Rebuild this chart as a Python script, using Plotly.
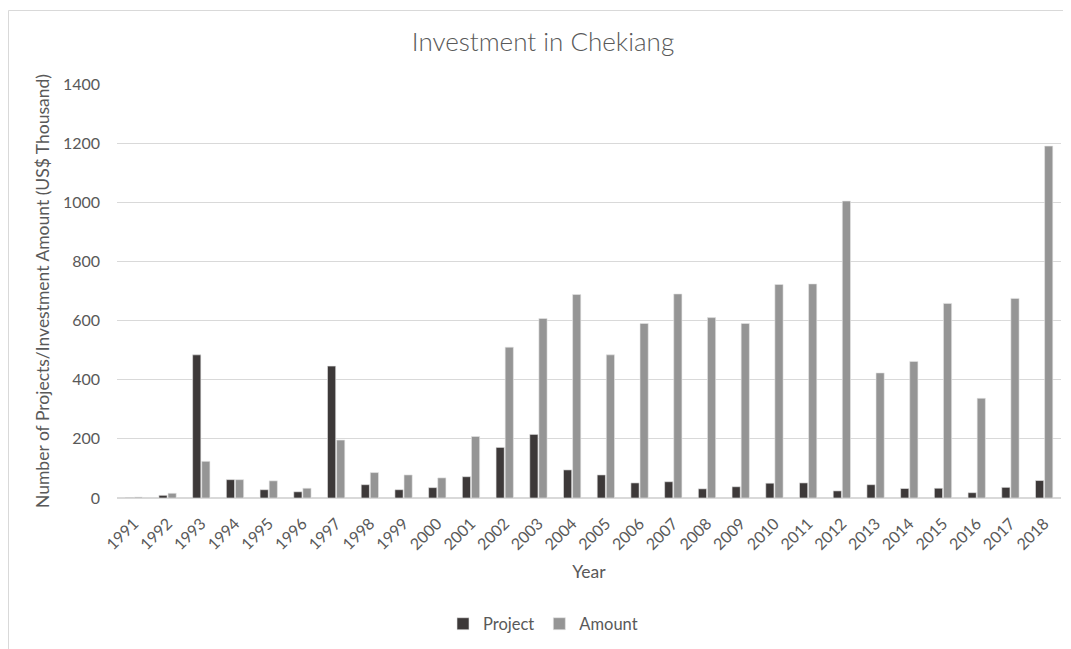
import plotly.graph_objects as go

years = [str(y) for y in range(1991, 2019)]
project = [1, 9, 484, 62, 28, 21, 446, 45, 28, 35, 72, 171, 215, 95, 78, 51, 55, 31, 38, 50, 51, 24, 45, 32, 33, 18, 36, 59]
amount = [3, 16, 124, 62, 58, 33, 196, 86, 78, 68, 208, 510, 607, 688, 484, 590, 690, 610, 590, 722, 724, 1004, 423, 462, 658, 337, 675, 1190]
y_ticks = [0, 200, 400, 600, 800, 1000, 1200, 1400]

FONT = "Lato"
TXT = "#595959"

fig = go.Figure()
fig.add_trace(go.Bar(x=years, y=project, name="Project",
                     marker=dict(color="#3d3939", line=dict(color="#e6e6e6", width=0.6))))
fig.add_trace(go.Bar(x=years, y=amount, name="Amount",
                     marker=dict(color="#959595", line=dict(color="#e6e6e6", width=0.6))))

W, H = 1063, 641
L, T, PW, PH = 109, 76, 944.0, 414.0

fig.update_layout(
    width=W, height=H,
    margin=dict(l=L, r=W - L - int(PW), t=T, b=H - T - int(PH), autoexpand=False),
    paper_bgcolor="white", plot_bgcolor="white",
    barmode="group", bargap=0.46, bargroupgap=0.1,
    title=dict(text="Investment in Chekiang", x=535 / W, xanchor="center", y=1 - 34 / H, yanchor="middle",
               font=dict(family=FONT, size=26, color=TXT, weight=300)),
    font=dict(family=FONT, color=TXT, size=16),
    legend=dict(orientation="h", x=(535 - L) / PW, xanchor="center", y=-(616 - T - PH) / PH, yanchor="middle",
                font=dict(family=FONT, size=16.5, color=TXT), itemwidth=30, traceorder="normal"),
    xaxis=dict(title=dict(text="Year", font=dict(size=17.5, color=TXT), standoff=13),
               tickangle=-45, tickfont=dict(size=16, color=TXT), ticklabelstandoff=9,
               showline=True, linecolor="#d9d9d9", linewidth=1, ticks="",
               showgrid=False),
    yaxis=dict(title=dict(text="Number of Projects/Investment Amount (US$ Thousand)",
                          font=dict(size=17.5, color=TXT), standoff=8),
               range=[0, 1400], tickvals=y_ticks, tickfont=dict(size=16, color=TXT),
               ticklabelstandoff=16,
               showgrid=True, gridcolor="#d9d9d9", gridwidth=1,
               zeroline=True, zerolinecolor="#d9d9d9", ticks="", ticklen=0),
    shapes=[dict(type="rect", xref="paper", yref="paper",
                 x0=-(L - 0.5) / PW, x1=1.2,
                 y0=-0.6, y1=(T + PH - 2.5) / PH,
                 line=dict(color="#d9d9d9", width=1), fillcolor="rgba(0,0,0,0)", layer="below")],
)
fig.write_html("out.html")
